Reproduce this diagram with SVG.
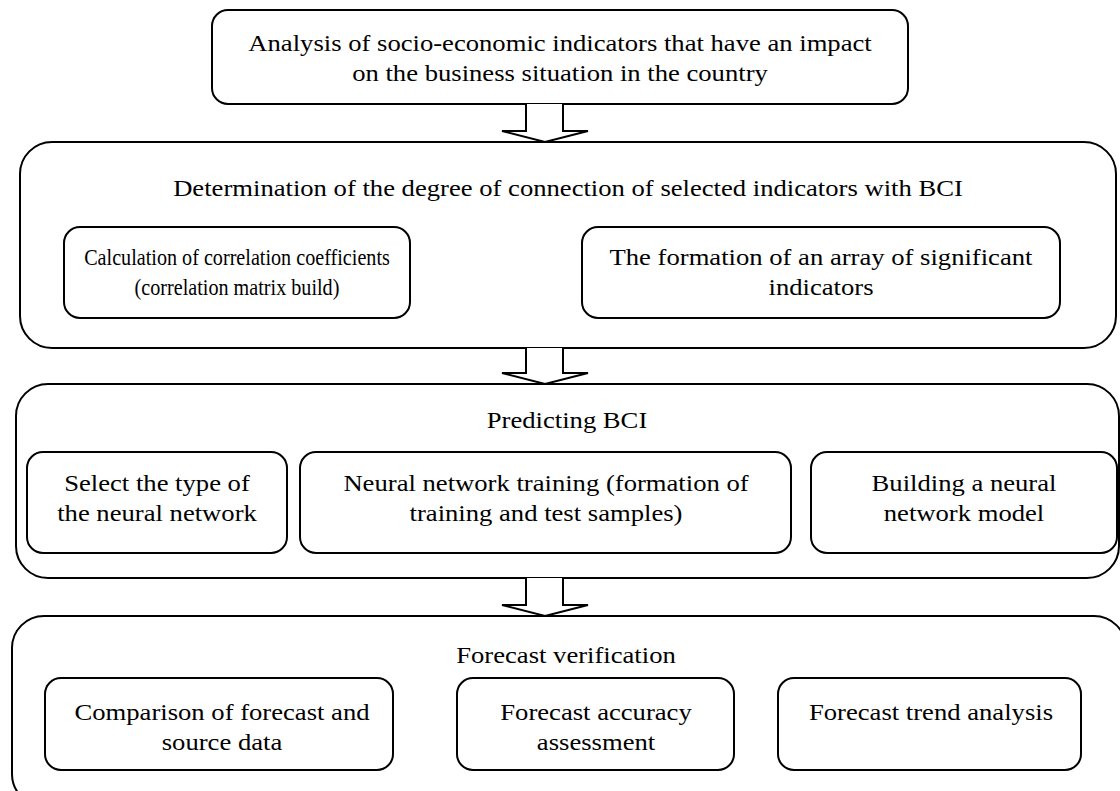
<svg xmlns="http://www.w3.org/2000/svg" width="1120" height="791" viewBox="0 0 1120 791">
<style>
.box{fill:#fff;stroke:#000;stroke-width:2}
.arr{fill:#fff;stroke:#000;stroke-width:2;stroke-linejoin:miter}
text{font-family:"Liberation Serif","Times New Roman",serif;font-size:24px;fill:#000;text-anchor:middle}
</style>
<rect width="1120" height="791" fill="#fff"/>
<g id="n1">
<rect class="box" x="212" y="10" width="696" height="94" rx="16"/>
<text transform="matrix(1.11,0,0,1,560,51)">Analysis of socio-economic indicators that have an impact</text>
<text transform="matrix(1.11,0,0,1,560,81)">on the business situation in the country</text>
</g>
<g id="n2">
<rect class="box" x="20" y="142" width="1096" height="206" rx="32"/>
<text transform="matrix(1.11,0,0,1,568,196)">Determination of the degree of connection of selected indicators with BCI</text>
</g>
<g id="n2a">
<rect class="box" x="64" y="227" width="346" height="91" rx="16"/>
<text transform="matrix(0.84,0,0,1,237,265)">Calculation of correlation coefficients</text>
<text transform="matrix(0.84,0,0,1,237,295)">(correlation matrix build)</text>
</g>
<g id="n2b">
<rect class="box" x="582" y="227" width="478" height="91" rx="16"/>
<text transform="matrix(1.11,0,0,1,821,265)">The formation of an array of significant</text>
<text transform="matrix(1.11,0,0,1,821,295)">indicators</text>
</g>
<g id="n3">
<rect class="box" x="16" y="384" width="1103" height="194" rx="32"/>
<text transform="matrix(1.11,0,0,1,567,428)">Predicting BCI</text>
</g>
<g id="n3a">
<rect class="box" x="27" y="452" width="260" height="101" rx="16"/>
<text transform="matrix(1.11,0,0,1,157,491)">Select the type of</text>
<text transform="matrix(1.11,0,0,1,157,521)">the neural network</text>
</g>
<g id="n3b">
<rect class="box" x="300" y="452" width="491" height="101" rx="16"/>
<text transform="matrix(1.11,0,0,1,546,491)">Neural network training (formation of</text>
<text transform="matrix(1.11,0,0,1,546,521)">training and test samples)</text>
</g>
<g id="n3c">
<rect class="box" x="811" y="452" width="306" height="101" rx="16"/>
<text transform="matrix(1.11,0,0,1,964,491)">Building a neural</text>
<text transform="matrix(1.11,0,0,1,964,521)">network model</text>
</g>
<g id="n4">
<rect class="box" x="12" y="616" width="1114" height="190" rx="32"/>
<text transform="matrix(1.11,0,0,1,566,663)">Forecast verification</text>
</g>
<g id="n4a">
<rect class="box" x="45" y="678" width="348" height="92" rx="16"/>
<text transform="matrix(1.11,0,0,1,222,720)">Comparison of forecast and</text>
<text transform="matrix(1.11,0,0,1,222,750)">source data</text>
</g>
<g id="n4b">
<rect class="box" x="457" y="678" width="277" height="92" rx="16"/>
<text transform="matrix(1.11,0,0,1,596,720)">Forecast accuracy</text>
<text transform="matrix(1.11,0,0,1,596,750)">assessment</text>
</g>
<g id="n4c">
<rect class="box" x="778" y="678" width="303" height="92" rx="16"/>
<text transform="matrix(1.11,0,0,1,931,720)">Forecast trend analysis</text>
</g>
<g id="connectors">
<path class="arr" d="M526,104 V131 H502 L545,142 L588,131 H563 V104"/>
<path class="arr" d="M526,348 V373 H502 L545,384 L588,373 H563 V348"/>
<path class="arr" d="M526,578 V605 H502 L545,616 L588,605 H563 V578"/>
</g>
</svg>
